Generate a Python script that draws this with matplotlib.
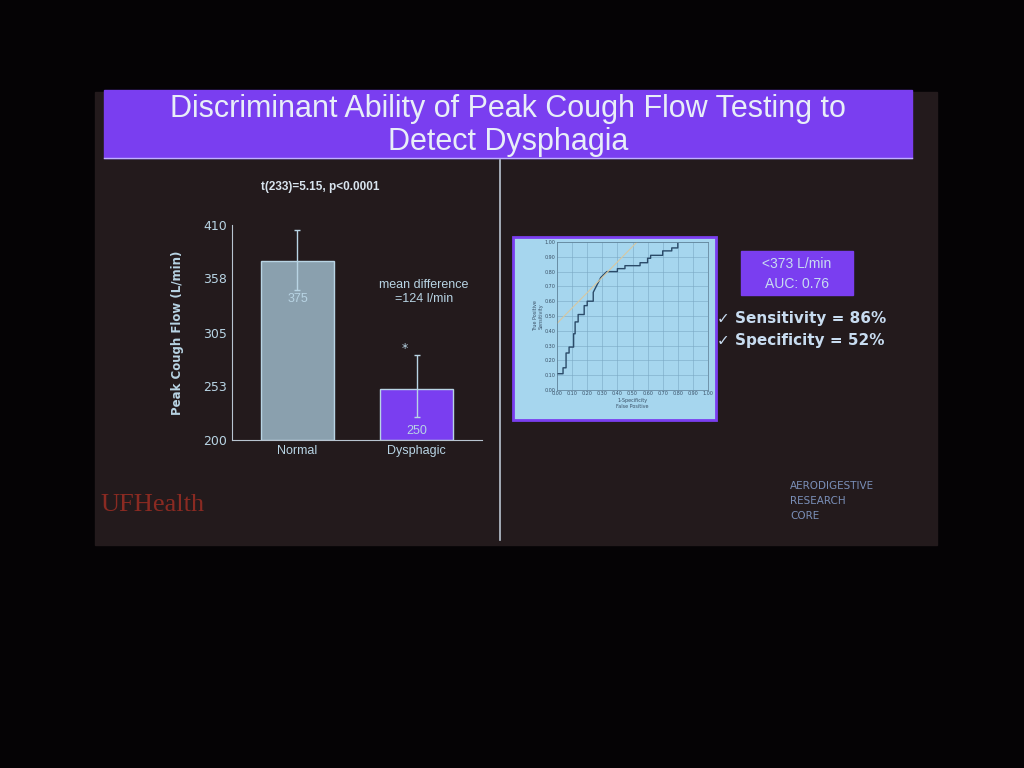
import matplotlib.pyplot as plt
from matplotlib.patches import Rectangle

groups = ["Normal", "Dysphagic"]
means = [375, 250]
err_low = [347, 222]
err_high = [405, 283]
yticks = [200, 253, 305, 358, 410]

roc_fpr = [0,0.04,0.04,0.06,0.06,0.08,0.08,0.11,0.11,0.12,0.12,0.14,0.14,0.18,0.18,0.20,0.20,0.24,0.24,0.27,0.29,0.31,0.33,0.40,0.40,0.45,0.45,0.55,0.55,0.60,0.60,0.62,0.62,0.70,0.70,0.76,0.76,0.80,0.80]
roc_tpr = [0.11,0.11,0.15,0.15,0.25,0.25,0.29,0.29,0.38,0.38,0.46,0.46,0.51,0.51,0.57,0.57,0.60,0.60,0.66,0.72,0.76,0.78,0.80,0.80,0.82,0.82,0.84,0.84,0.86,0.86,0.89,0.89,0.91,0.91,0.94,0.94,0.96,0.96,0.99]
tan_x = [0, 0.53]
tan_y = [0.45, 1.0]

W, H = 1024, 768
fig = plt.figure(figsize=(10.24, 7.68), dpi=100, facecolor="#050305")
bg = fig.add_axes([0, 0, 1, 1]); bg.set_xlim(0, W); bg.set_ylim(H, 0); bg.axis("off")
bg.add_patch(Rectangle((95, 92), 842, 453, color="#231a1c"))
bg.add_patch(Rectangle((104, 90), 808, 68, color="#7a3ef0"))
bg.plot([104, 912], [158, 158], color="#c0b0ff", lw=1)
bg.text(508, 109, "Discriminant Ability of Peak Cough Flow Testing to", color="#e8eef8", fontsize=22, ha="center", va="center", family="Liberation Sans")
bg.text(508, 142, "Detect Dysphagia", color="#e8eef8", fontsize=22, ha="center", va="center", family="Liberation Sans")
bg.plot([500, 500], [160, 540], color="#b8c4d0", lw=1.2)
bg.text(320, 190, "t(233)=5.15, p<0.0001", color="#d8e4ee", fontsize=8.5, ha="center", weight="bold", family="Liberation Sans")
bg.text(424, 292, "mean difference\n=124 l/min", color="#b8d4e4", fontsize=9, ha="center", va="center", family="Liberation Sans")
bg.text(405, 352, "*", color="#b8d4e4", fontsize=9, ha="center")
bg.add_patch(Rectangle((741, 251), 112, 44, color="#7a3ef0"))
bg.text(797, 264, "<373 L/min", color="#c8dcf0", fontsize=10, ha="center", va="center", family="Liberation Sans")
bg.text(797, 284, "AUC: 0.76", color="#c8dcf0", fontsize=10, ha="center", va="center", family="Liberation Sans")
bg.text(717, 318, "✓ Sensitivity = 86%", color="#c8dcf0", fontsize=11, va="center", weight="bold")
bg.text(717, 340, "✓ Specificity = 52%", color="#c8dcf0", fontsize=11, va="center", weight="bold")
bg.text(100, 505, "UFHealth", color="#8a2a22", fontsize=19, va="center", family="Liberation Serif")
bg.text(790, 486, "AERODIGESTIVE", color="#7a8fb8", fontsize=7.5, va="center")
bg.text(790, 501, "RESEARCH", color="#7a8fb8", fontsize=7.5, va="center")
bg.text(790, 516, "CORE", color="#7a8fb8", fontsize=7.5, va="center")

ax = fig.add_axes([232/W, 1-440/H, 250/W, 215/H])
ax.set_facecolor("none")
x = [0, 1]
ax.bar(x, [m-200 for m in means], bottom=200, width=0.62, color=["#8aa0ae", "#7a3ef0"], edgecolor="#b8d4e4", lw=1)
for i in range(2):
    ax.errorbar(x[i], means[i], yerr=[[means[i]-err_low[i]], [err_high[i]-means[i]]], color="#b8d4e4", capsize=2, lw=1)
    ax.text(x[i], means[i]-(40 if i == 0 else 44), str(means[i]), color="#b8d4e4", fontsize=9, ha="center", family="Liberation Sans")
ax.set_xlim(-0.55, 1.55); ax.set_ylim(200, 410)
ax.set_yticks(yticks); ax.set_xticks(x); ax.set_xticklabels(groups, fontsize=13, color="#b8d4e4", family="Liberation Sans")
ax.tick_params(length=0, colors="#b8d4e4", labelsize=9)
for s in ["top", "right"]: ax.spines[s].set_visible(False)
for s in ["left", "bottom"]: ax.spines[s].set_color("#b8c4d0")
ax.set_ylabel("Peak Cough Flow (L/min)", color="#b8d4e4", fontsize=8.5, weight="bold", labelpad=14)

bg.add_patch(Rectangle((513, 237), 203, 183, facecolor="#a6d6ee", edgecolor="#7a3ef0", lw=2))
rx = fig.add_axes([557/W, 1-390/H, 151/W, 148/H])
rx.set_facecolor("#a6d6ee")
rx.plot(roc_fpr, roc_tpr, color="#2a4a68", lw=1)
rx.plot(tan_x, tan_y, color="#d8c8a0", lw=0.8)
rx.set_xlim(0, 1); rx.set_ylim(0, 1)
t = [i/10 for i in range(11)]
rx.set_xticks(t); rx.set_yticks(t)
rx.set_xticklabels([f"{v:.2f}" for v in t], fontsize=3.5); rx.set_yticklabels([f"{v:.2f}" for v in t], fontsize=3.5)
rx.grid(color="#7aa8c4", lw=0.4)
rx.tick_params(length=0, colors="#3a5066", pad=1)
for s in rx.spines.values(): s.set_color("#5a7a90"); s.set_linewidth(0.5)
rx.set_xlabel("1-Specificity\nFalse Positive", fontsize=3.5, color="#3a5066", labelpad=1)
rx.set_ylabel("True Positive\nSensitivity", fontsize=3.5, color="#3a5066", labelpad=1)
fig.savefig("out.png", dpi=100, facecolor=fig.get_facecolor())
